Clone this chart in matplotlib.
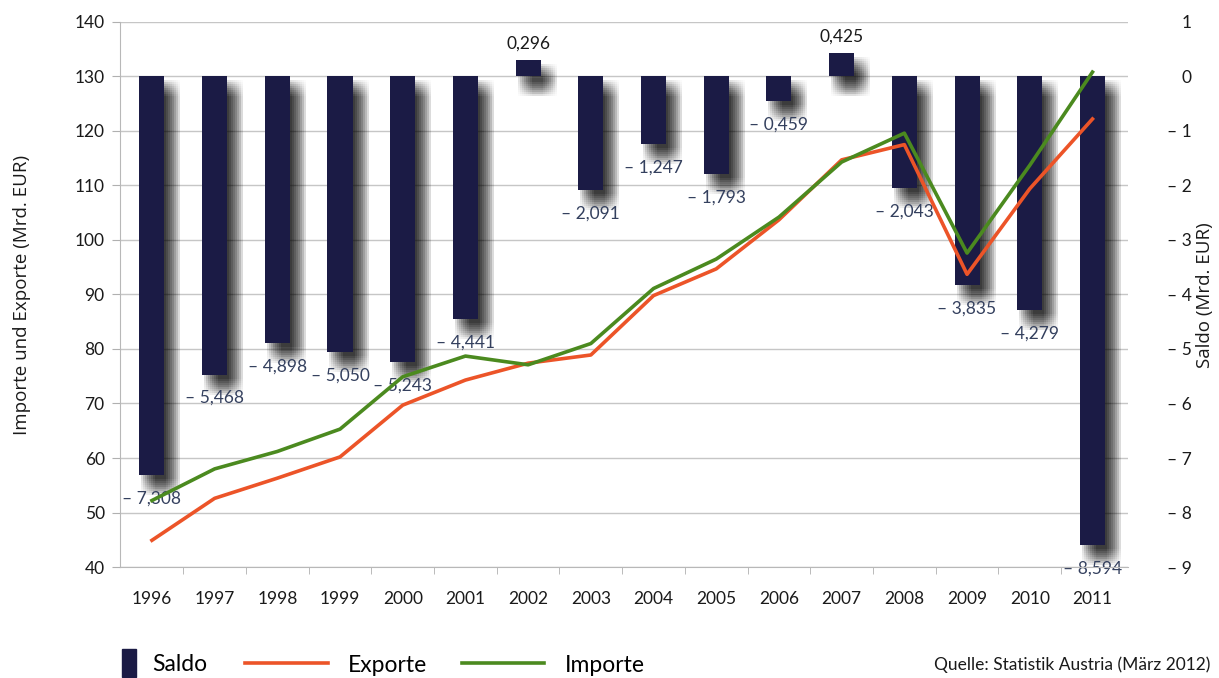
import numpy as np
import matplotlib
matplotlib.use("Agg")
from matplotlib import pyplot as plt
from matplotlib import patheffects as pe
from matplotlib import font_manager as fm
from matplotlib.patches import Patch
from matplotlib.lines import Line2D

# Daten (Mrd. EUR), Statistik Austria
jahre = ["1996", "1997", "1998", "1999", "2000", "2001", "2002", "2003",
         "2004", "2005", "2006", "2007", "2008", "2009", "2010", "2011"]
saldo = [-7.308, -5.468, -4.898, -5.050, -5.243, -4.441, 0.296, -2.091,
         -1.247, -1.793, -0.459, 0.425, -2.043, -3.835, -4.279, -8.594]
exporte = [44.9, 52.6, 56.3, 60.2, 69.7, 74.3, 77.4, 78.9,
           89.8, 94.7, 103.7, 114.7, 117.5, 93.7, 109.4, 122.2]
importe = [52.2, 58.0, 61.2, 65.3, 74.9, 78.7, 77.1, 81.0,
           91.1, 96.5, 104.2, 114.3, 119.6, 97.6, 113.7, 130.8]

navy = "#1b1b45"
orange = "#ec5428"
green = "#4b8a1f"
grey = "#c6c6c6"

names = {f.name for f in fm.fontManager.ttflist}
main_font = "Lato" if "Lato" in names else "DejaVu Sans"
regular = "Open Sans" if "Open Sans" in names else "DejaVu Sans"
plt.rcParams["font.family"] = [main_font, "DejaVu Sans"]

x = np.arange(len(jahre))

fig = plt.figure(figsize=(12.19, 6.78), dpi=100)
fig.subplots_adjust(left=0.0984, right=0.925, top=0.9676, bottom=0.1637)
ax = fig.add_subplot(111)
ax2 = ax.twinx()

# Saldo-Balken mit weichem Schatten (rechte Achse)
shadow = []
for ox in range(2, 18, 2):
    for oy in range(4, 22, 2):
        shadow.append(pe.SimplePatchShadow(offset=(ox * 0.72, -oy * 0.72),
                                           shadow_rgbFace="black", alpha=0.015))
shadow.append(pe.Normal())
bars = ax2.bar(x, saldo, width=0.4, color=navy, zorder=3)
for b in bars:
    b.set_path_effects(shadow)

for xi, s in zip(x, saldo):
    if s < 0:
        txt = "\u2013 " + f"{abs(s):.3f}".replace(".", ",")
        ax2.annotate(txt, (xi, s), xytext=(0, -17), textcoords="offset points",
                     ha="center", va="center", fontsize=12.5, color="#34405e", zorder=4)
    else:
        txt = f"{s:.3f}".replace(".", ",")
        ax2.annotate(txt, (xi, s), xytext=(0, 12), textcoords="offset points",
                     ha="center", va="center", fontsize=12.5, color="#1a1a1a", zorder=4)

ax2.set_ylim(-9, 1)
ax2.set_yticks(np.arange(-9, 2, 1))
ax2.yaxis.set_major_formatter(plt.FuncFormatter(
    lambda v, _: f"\u2013 {abs(int(round(v)))}" if v < 0 else f"{int(round(v))}"))
ax2.tick_params(axis="y", length=0, pad=46, labelsize=12.5, colors="#1a1a1a")
for lab in ax2.get_yticklabels():
    lab.set_horizontalalignment("right")
ax2.grid(axis="y", color=grey, lw=1)
ax2.set_axisbelow(True)
for sp in ax2.spines.values():
    sp.set_visible(False)

# Linien (linke Achse)
ax.set_zorder(ax2.get_zorder() + 1)
ax.patch.set_visible(False)
ax.plot(x, exporte, color=orange, lw=2.6, zorder=5)
ax.plot(x, importe, color=green, lw=2.6, zorder=6)
ax.set_ylim(40, 140)
ax.set_yticks(np.arange(40, 141, 10))
ax.set_xlim(-0.51, 15.56)
ax.set_xticks(x)
ax.set_xticklabels(jahre)
ax.set_xticks(x[:-1] + 0.5, minor=True)
ax.tick_params(axis="x", which="major", length=0, pad=17, labelsize=12.5, colors="#1a1a1a")
ax.tick_params(axis="x", which="minor", length=5, color="#b0b0b0")
ax.tick_params(axis="y", length=6, pad=5, labelsize=12.5, color="#b0b0b0", labelcolor="#1a1a1a")
for side in ("top", "right"):
    ax.spines[side].set_visible(False)
ax.spines["left"].set_color("#b8b8b8")
ax.spines["bottom"].set_color("#b8b8b8")

fig.text(22 / 1219, 0.565, "Importe und Exporte (Mrd. EUR)", rotation=90,
         ha="center", va="center", fontsize=13.5, family=regular, color="#1a1a1a")
fig.text(1205 / 1219, 0.565, "Saldo (Mrd. EUR)", rotation=90,
         ha="center", va="center", fontsize=13.5, family=regular, color="#1a1a1a")

# Legende
fig.legend([Patch(color=navy)], ["Saldo"], loc="center left",
           bbox_to_anchor=(122 / 1219, 1 - 663 / 678), frameon=False,
           fontsize=16.5, handlelength=0.6, handleheight=1.45, handletextpad=0.7,
           borderpad=0, borderaxespad=0)
fig.legend([Line2D([], [], color=orange, lw=2.6), Line2D([], [], color=green, lw=2.6)],
           ["Exporte", "Importe"], loc="center left", ncol=2,
           bbox_to_anchor=(245 / 1219, 1 - 665 / 678), frameon=False,
           fontsize=16.5, handlelength=3.6, handletextpad=0.9, columnspacing=1.5,
           borderpad=0, borderaxespad=0)

fig.text(1210 / 1219, 1 - 665 / 678, "Quelle: Statistik Austria (März 2012)",
         ha="right", va="center", fontsize=12.5, color="#1a1a1a")

fig.savefig("out.png", dpi=100)
